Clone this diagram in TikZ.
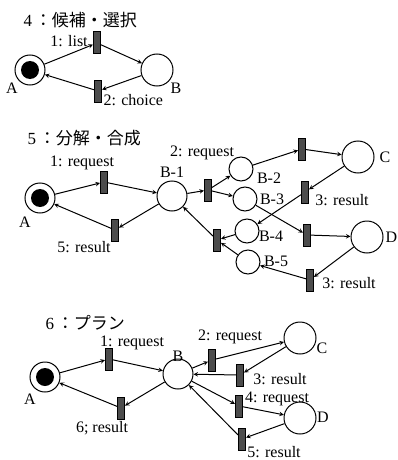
\documentclass[tikz,border=0pt]{standalone}
\usepackage{fontspec}
\setmainfont{Liberation Serif}
\newfontfamily\jp{Noto Sans CJK JP}
\begin{document}
\begin{tikzpicture}[x=1pt, y=-1pt, >=stealth, line width=1pt,
  place/.style={shape=circle, draw=black, minimum size=30pt, inner sep=0pt},
  small place/.style={place, minimum size=24pt},
  big place/.style={place, minimum size=32pt},
  token/.style={place, path picture={\fill (path picture bounding box.center) circle (9pt);}},
  trans/.style={shape=rectangle, draw=black, fill=black!70, minimum width=7pt, minimum height=22pt, inner sep=0pt},
  lbl/.style={font=\fontsize{16}{18}\selectfont, inner sep=0pt},
  title/.style={font=\fontsize{17}{19}\selectfont, anchor=west, inner sep=0pt}]
\useasboundingbox (0,0) rectangle (397,460);

% 4: candidate / selection
\node[title] (ti4) at (23,20) {4\,{\jp ：候補・選択}};
\node[token] (a4) at (30,70) {};
\node[big place] (b4) at (157,70) {};
\node[trans] (t41) at (97,43) {};
\node[trans] (t42) at (98,91) {};
\node[lbl] (la4) at (12,88) {A};
\node[lbl] (lb4) at (176,88) {B};
\node[lbl] (l41) at (69,41) {1: list};
\node[lbl, anchor=west] (l42) at (103,100) {2: choice};

\path[->] (a4) edge (t41);
\path[->] (t41) edge (b4);
\path[->] (b4) edge (t42);
\path[->] (t42) edge (a4);

% 5: decomposition / composition
\node[title] (ti5) at (27,138) {5\,{\jp ：分解・合成}};
\node[token] (a5) at (40,198) {};
\node[place] (b51) at (172,196) {};
\node[trans] (t51) at (104,182) {};
\node[trans] (t55) at (115,230) {};
\node[trans] (t52) at (208,190) {};
\node[trans] (t56) at (217,240) {};
\node[small place] (b52) at (241,169) {};
\node[small place] (b53) at (245,199) {};
\node[small place] (b54) at (247,231) {};
\node[small place] (b55) at (248,262) {};
\node[trans] (t53) at (302,149) {};
\node[trans] (t54) at (305,192) {};
\node[trans] (t57) at (307,235) {};
\node[trans] (t58) at (310,280) {};
\node[big place] (c5) at (358,157) {};
\node[big place] (d5) at (367,237) {};

\node[lbl] (la5) at (25,222) {A};
\node[lbl] (lb51) at (172,172) {B-1};
\node[lbl] (lb52) at (269,178) {B-2};
\node[lbl] (lb53) at (272,199) {B-3};
\node[lbl] (lb54) at (271,236) {B-4};
\node[lbl] (lb55) at (276,261) {B-5};
\node[lbl] (lc5) at (385,157) {C};
\node[lbl, anchor=west] (ld5) at (385,237) {D};
\node[lbl] (l51) at (82,163) {1: request};
\node[lbl] (l55) at (84,247) {5: result};
\node[lbl] (l52) at (202,153) {2: request};
\node[lbl] (l54) at (342,200) {3: result};
\node[lbl] (l58) at (349,283) {3: result};

\path[->] (a5) edge (t51);
\path[->] (t51) edge (b51);
\path[->] (b51) edge (t55);
\path[->] (t55) edge (a5);
\path[->] (b51) edge (t52);
\path[->] (t52) edge (b52);
\path[->] (t52) edge (b53);
\path[->] (b52) edge (t53);
\path[->] (t53) edge (c5);
\path[->] (c5) edge (t54);
\path[->] (t54) edge (b54);
\path[->] (b53) edge (t57);
\path[->] (t57) edge (d5);
\path[->] (d5) edge (t58);
\path[->] (t58) edge (b55);
\path[->] (b54) edge (t56);
\path[->] (b55) edge (t56);
\path[->] (t56) edge (b51);

% 6: plan
\node[title] (ti6) at (45,323) {6\,{\jp ：プラン}};
\node[token] (a6) at (45,377) {};
\node[place] (b6) at (178,374) {};
\node[trans] (t61) at (109,359) {};
\node[trans] (t66) at (121,408) {};
\node[trans] (t62) at (212,360) {};
\node[trans] (t63) at (240,375) {};
\node[trans] (t64) at (239,406) {};
\node[trans] (t65) at (242,439) {};
\node[big place] (c6) at (300,338) {};
\node[big place] (d6) at (300,418) {};

\node[lbl] (la6) at (30,399) {A};
\node[lbl] (lb6) at (178,356) {B};
\node[lbl] (lc6) at (322,348) {C};
\node[lbl] (ld6) at (323,417) {D};
\node[lbl] (l61) at (132,343) {1: request};
\node[lbl] (l66) at (102,428) {6; result};
\node[lbl] (l62) at (230,337) {2: request};
\node[lbl] (l63) at (280,379) {3: result};
\node[lbl] (l64) at (277,399) {4: request};
\node[lbl] (l65) at (274,452) {5: result};

\path[->] (a6) edge (t61);
\path[->] (t61) edge (b6);
\path[->] (b6) edge (t66);
\path[->] (t66) edge (a6);
\path[->] (b6) edge (t62);
\path[->] (t62) edge (c6);
\path[->] (c6) edge (t63);
\path[->] (t63) edge (b6);
\path[->] (b6) edge (t64);
\path[->] (t64) edge (d6);
\path[->] (d6) edge (t65);
\path[->] (t65) edge (b6);

\end{tikzpicture}
\end{document}
